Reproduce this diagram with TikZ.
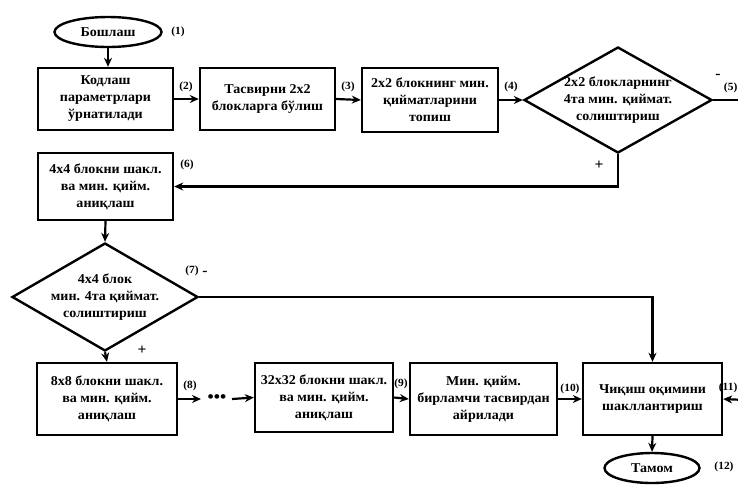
\documentclass[tikz,border=0pt]{standalone}
\usepackage{fontspec}
\setmainfont{Liberation Serif}[FakeStretch=1.04]
\usetikzlibrary{arrows.meta,shapes.geometric}
\tikzset{
  base/.style={draw, line width=2.4pt, inner sep=0pt, align=center,
    font=\fontsize{13.5}{17}\selectfont\bfseries},
  procbox/.style={base, rectangle},
  decide/.style={base, diamond, inner sep=-14pt},
  term/.style={base, ellipse},
  tag/.style={font=\fontsize{11}{11}\selectfont\bfseries, inner sep=0pt},
  sign/.style={font=\fontsize{15}{15}\selectfont\bfseries, inner sep=0pt},
  flow/.style={line width=2.2pt, -{Stealth[length=9pt,width=8pt]}},
  link/.style={line width=2.2pt},
}
\begin{document}
\begin{tikzpicture}[x=1pt, y=-1pt]
\useasboundingbox (0,0) rectangle (738,491);
\clip (0,0) rectangle (738,491);
\fill[white] (0,0) rectangle (738,491);

% terminals
\node[term, minimum width=107pt, minimum height=30pt] (start) at (108,32) {Бошлаш};
\node[term, minimum width=95pt, minimum height=30pt] (stop) at (652,468) {Тамом};

% first row
\node[procbox, minimum width=135pt, minimum height=62pt] (setp) at (105.5,99)
  {Кодлаш\\параметрлари\\ўрнатилади};
\node[procbox, minimum width=135pt, minimum height=62pt] (split) at (267.5,99)
  {Тасвирни 2x2\\блокларга бўлиш};
\node[procbox, minimum width=136pt, minimum height=64pt] (min2) at (430,100)
  {2x2 блокнинг мин.\\қийматларини\\топиш};
\node[decide, minimum width=188pt, minimum height=106pt] (cmp2) at (618,100)
  {2x2 блокларнинг\\4та мин. қиймат.\\солиштириш};

% second and third rows
\node[procbox, minimum width=135pt, minimum height=67pt] (blk4) at (105.5,186.5)
  {4x4 блокни шакл.\\ва мин. қийм.\\аниқлаш};
\node[decide, minimum width=186pt, minimum height=108pt] (cmp4) at (105,297)
  {4x4 блок\\мин. 4та қиймат.\\солиштириш};

% bottom row
\node[procbox, minimum width=140pt, minimum height=72pt] (blk8) at (107,399)
  {8x8 блокни шакл.\\ва мин. қийм.\\аниқлаш};
\node[procbox, minimum width=138pt, minimum height=69pt] (blk32) at (324,397.5)
  {32x32 блокни шакл.\\ва мин. қийм.\\аниқлаш};
\node[procbox, minimum width=147pt, minimum height=72pt] (subtr) at (483.5,399)
  {Мин. қийм.\\бирламчи тасвирдан\\айрилади};
\node[procbox, minimum width=139pt, minimum height=72pt] (outs) at (652.5,399)
  {Чиқиш оқимини\\шакллантириш};

% loose ends and the ellipsis between 8x8 and 32x32
\coordinate (out5) at (745,100);
\coordinate (in11) at (745,400);
\coordinate (gapL) at (201,399);
\coordinate (gapR) at (232,399);
\node[inner sep=0pt, font=\fontsize{17}{17}\selectfont\bfseries] (dots) at (217,399) {•••};

% connectors
\draw[flow] (start) -- (start |- setp.north);
\draw[flow] (setp.east) -- (split.west);
\draw[flow] (split.east) -- (min2.west);
\draw[flow] (min2.east) -- (cmp2.west);
\draw[link] (cmp2.east) -- (out5);
\draw[flow] (cmp2.south) |- (blk4.east);
\draw[flow] (blk4.south) -- (cmp4.north);
\draw[flow] (cmp4.east) -| (outs.north);
\draw[flow] (cmp4.south) -- (blk8.north);
\draw[flow] (blk8.east) -- (gapL);
\draw[flow] (gapR) -- (blk32.west);
\draw[flow] (blk32.east) -- (subtr.west);
\draw[flow] (subtr.east) -- (outs.west);
\draw[flow] (in11) -- (outs.east);
\draw[flow] (outs.south) -- (stop.north);

% step numbers and branch signs
\node[tag] (n1) at (178,32) {(1)};
\node[tag] (n2) at (186,87) {(2)};
\node[tag] (n3) at (348,87) {(3)};
\node[tag] (n4) at (511,87) {(4)};
\node[sign] (m5) at (718,76) {-};
\node[tag, anchor=east] (n5) at (737.5,88) {(5)};
\node[sign] (p5) at (599,165) {+};
\node[tag] (n6) at (187,165) {(6)};
\node[tag] (n7) at (192,271) {(7)};
\node[sign] (m7) at (205,273) {-};
\node[sign] (p7) at (142,350) {+};
\node[tag] (n8) at (190,386) {(8)};
\node[tag] (n9) at (401,384) {(9)};
\node[tag] (n10) at (570,389) {(10)};
\node[tag, anchor=east] (n11) at (737.5,388) {(11)};
\node[tag] (n12) at (724,467) {(12)};
\end{tikzpicture}
\end{document}
